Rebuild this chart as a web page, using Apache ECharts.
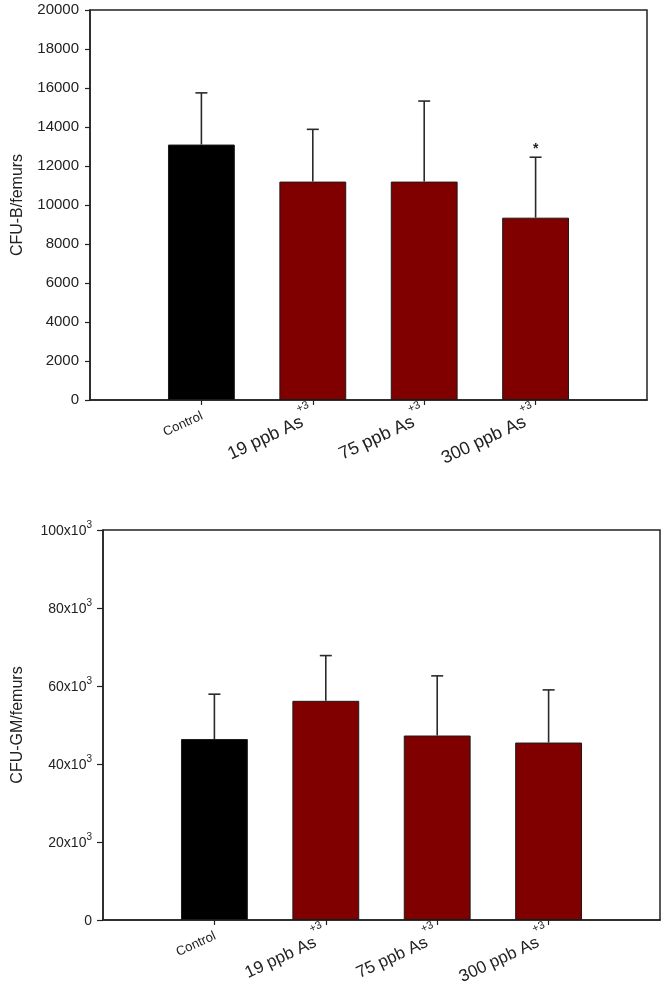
<!DOCTYPE html>
<html>
<head>
<meta charset="utf-8">
<script src="https://cdn.jsdelivr.net/npm/echarts@6/dist/echarts.min.js"></script>
<style>
  html, body { margin: 0; padding: 0; background: #fff; }
  #main { width: 666px; height: 998px; }
</style>
</head>
<body>
<div id="main"></div>
<script>
// groups on the x axis (padded with blank slots at both ends)
const groups = ['Control', '19 ppb As', '75 ppb As', '300 ppb As'];
const barColors = ['#000000', '#800000', '#800000', '#800000'];

// CFU-B per femurs (top panel)
const cfuBMean = [13100, 11200, 11200, 9350];
const cfuBErr = [2650, 2680, 4130, 3100];
const cfuBMarks = ['', '', '', '*'];

// CFU-GM per femurs (bottom panel)
const cfuGMMean = [46400, 56200, 47300, 45500];
const cfuGMErr = [11500, 11600, 15300, 13500];
const cfuGMMarks = ['', '', '', ''];

const topTicks = { min: 0, max: 20000, interval: 2000 };
const bottomTicks = { min: 0, max: 100000, interval: 20000 };

const font = 'Liberation Sans, Arial, sans-serif';
const ink = '#222';

const slots = [''].concat(groups, ['']);
const cfuMarks = [cfuBMarks, cfuGMMarks];

function barData(means) {
  return [null].concat(means.map((v, i) => ({
    value: v,
    itemStyle: { color: barColors[i] }
  })), [null]);
}

function errData(means, errs, marks) {
  return means.map((v, i) => [i + 1, v, v + errs[i], marks[i]]);
}

function renderErr(params, api) {
  const base = api.coord([api.value(0), api.value(1)]);
  const top = api.coord([api.value(0), api.value(2)]);
  const mark = cfuMarks[params.seriesIndex === 1 ? 0 : 1][params.dataIndex];
  const style = { stroke: '#2a2a2a', lineWidth: 1.6 };
  const kids = [
    { type: 'line', shape: { x1: base[0], y1: base[1], x2: top[0], y2: top[1] }, style: style },
    { type: 'line', shape: { x1: top[0] - 6, y1: top[1], x2: top[0] + 6, y2: top[1] }, style: style }
  ];
  if (mark) {
    kids.push({
      type: 'text',
      style: { text: mark, x: top[0], y: top[1] - 1, align: 'center', verticalAlign: 'bottom',
        font: 'bold 14px ' + font, fill: ink }
    });
  }
  return { type: 'group', children: kids };
}

function xLabel(value) {
  if (!value) return '';
  if (value === 'Control') return '{c|Control}';
  return '{m|' + value + '}{s|+3}';
}

function xAxisFor(gridIndex, mainSize) {
  return {
    type: 'category',
    gridIndex: gridIndex,
    data: slots,
    boundaryGap: false,
    axisLine: { lineStyle: { color: ink, width: 1.5 } },
    axisTick: { length: 5, interval: (i) => i > 0 && i < 5, lineStyle: { color: ink, width: 1.2 } },
    axisLabel: {
      interval: (i) => i > 0 && i < 5,
      rotate: 25,
      margin: 14,
      formatter: xLabel,
      rich: {
        c: { fontSize: 13, fontFamily: font, color: ink, lineHeight: 16, verticalAlign: 'bottom', padding: [0, 0, 0, 0] },
        m: { fontSize: mainSize, fontFamily: font, color: ink, lineHeight: 22, verticalAlign: 'bottom' },
        s: { fontSize: 11, fontFamily: font, color: ink, lineHeight: 11, verticalAlign: 'bottom', padding: [0, 0, 16, 0] }
      }
    },
    splitLine: { show: false }
  };
}

let chart = echarts.init(document.getElementById('main'));

chart.setOption({
  animation: false,
  backgroundColor: '#fff',
  grid: [
    { left: 90, top: 10, width: 557, height: 390, show: true, borderColor: ink, borderWidth: 1.5 },
    { left: 103, top: 530, width: 557, height: 390, show: true, borderColor: ink, borderWidth: 1.5 }
  ],
  xAxis: [xAxisFor(0, 18), xAxisFor(1, 17)],
  yAxis: [
    {
      type: 'value',
      gridIndex: 0,
      min: topTicks.min, max: topTicks.max, interval: topTicks.interval,
      name: 'CFU-B/femurs',
      nameLocation: 'middle',
      nameGap: 64,
      nameTextStyle: { fontSize: 16, fontFamily: font, color: ink },
      axisLine: { show: true, lineStyle: { color: ink, width: 1.5 } },
      axisTick: { show: true, length: 5, lineStyle: { color: ink, width: 1.2 } },
      axisLabel: { fontSize: 15, fontFamily: font, color: ink, margin: 11, formatter: (v) => String(v) },
      splitLine: { show: false }
    },
    {
      type: 'value',
      gridIndex: 1,
      min: bottomTicks.min, max: bottomTicks.max, interval: bottomTicks.interval,
      name: 'CFU-GM/femurs',
      nameLocation: 'middle',
      nameGap: 77,
      nameTextStyle: { fontSize: 16, fontFamily: font, color: ink },
      axisLine: { show: true, lineStyle: { color: ink, width: 1.5 } },
      axisTick: { show: true, length: 6, lineStyle: { color: ink, width: 1.2 } },
      axisLabel: {
        margin: 11,
        formatter: (v) => v === 0 ? '{n|0}' : '{n|' + (v / 1000) + 'x10}{s|3}',
        rich: {
          n: { fontSize: 14, fontFamily: font, color: ink, lineHeight: 17, verticalAlign: 'bottom' },
          s: { fontSize: 10, fontFamily: font, color: ink, lineHeight: 10, verticalAlign: 'bottom', padding: [0, 0, 8, 0] }
        }
      },
      splitLine: { show: false }
    }
  ],
  series: [
    {
      type: 'bar',
      xAxisIndex: 0, yAxisIndex: 0,
      data: barData(cfuBMean),
      barWidth: '60%',
      itemStyle: { borderColor: '#1a1a1a', borderWidth: 1 }
    },
    {
      type: 'custom',
      xAxisIndex: 0, yAxisIndex: 0,
      data: errData(cfuBMean, cfuBErr, cfuBMarks),
      encode: { x: 0, y: [1, 2] },
      renderItem: renderErr,
      z: 3
    },
    {
      type: 'bar',
      xAxisIndex: 1, yAxisIndex: 1,
      data: barData(cfuGMMean),
      barWidth: '60%',
      itemStyle: { borderColor: '#1a1a1a', borderWidth: 1 }
    },
    {
      type: 'custom',
      xAxisIndex: 1, yAxisIndex: 1,
      data: errData(cfuGMMean, cfuGMErr, cfuGMMarks),
      encode: { x: 0, y: [1, 2] },
      renderItem: renderErr,
      z: 3
    }
  ]
});
</script>
</body>
</html>
